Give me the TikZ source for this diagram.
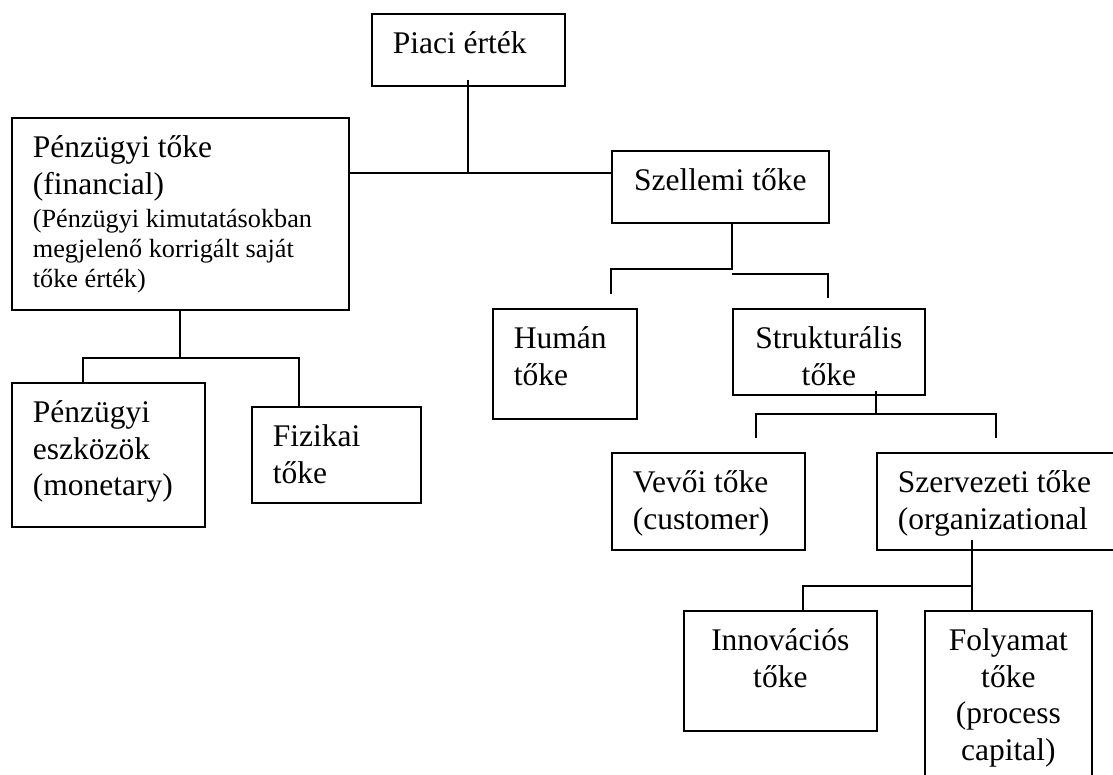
\documentclass[tikz,border=0pt]{standalone}
\usepackage{fontspec}
\setmainfont{Liberation Serif}
\usepackage{tikz}
\usetikzlibrary{positioning}

\newcommand{\bigfnt}{\fontsize{31.5pt}{36.5pt}\selectfont\lineskiplimit=-100pt\lineskip=0pt}
\newcommand{\smallfnt}{\fontsize{26.25pt}{30.2pt}\selectfont\lineskiplimit=-100pt\lineskip=0pt}

\begin{document}
\begin{tikzpicture}[
  x=1pt, y=-1pt,
  orgbox/.style={rectangle, draw=black, line width=1.7pt, anchor=north west,
                 inner xsep=21pt, inner ysep=0pt, text height=40pt,
                 align=flush left, font=\bigfnt},
  cbox/.style={orgbox, inner xsep=10pt, align=flush center},
  link/.style={draw=black, line width=1.7pt}
]
\path[use as bounding box, clip] (0,0) rectangle (1113,774);

% boxes
\node[orgbox, text width=151pt, text depth=32pt] (piaci) at (371,13) {Piaci érték};
\node[orgbox, text width=295pt, text depth=152pt] (penzugyi) at (11,117) {%
  Pénzügyi tőke\par
  (financial)\par
  \vspace{3pt}\smallfnt
  (Pénzügyi kimutatásokban\par
  megjelenő korrigált saját\par
  tőke érték)\par};
\node[orgbox, text width=151pt, text depth=104pt] (eszkozok) at (11,382) {%
  Pénzügyi\\ eszközök\\ (monetary)};
\node[orgbox, text width=127pt, text depth=56pt] (fizikai) at (251,406) {Fizikai\\ tőke};
\node[cbox, text width=197pt, text depth=32pt] (szellemi) at (611,150) {Szellemi tőke};
\node[orgbox, text width=102pt, text depth=70pt] (human) at (492,308) {Humán\\ tőke};
\node[cbox, text width=172pt, text depth=46pt] (strukturalis) at (732,308) {Strukturális\\ tőke};
\node[orgbox, text width=151pt, text depth=57pt] (vevoi) at (611,452) {Vevői tőke\\ (customer)};
\node[orgbox, text width=202pt, text depth=57pt] (szervezeti) at (876,452) {Szervezeti tőke\\ (organizational};
\node[cbox, text width=173pt, text depth=80pt] (innovacios) at (683,610) {Innovációs\\ tőke};
\node[cbox, text width=147pt, text depth=140pt] (folyamat) at (924,610) {%
  Folyamat\\ tőke\\ (process\\ capital)};

% connectors
\coordinate (jpiaci) at (468,173);
\draw[link] ([yshift=7pt]jpiaci |- piaci.south) -- (jpiaci);
\draw[link] (penzugyi.east |- jpiaci) -- (szellemi.west |- jpiaci);

\coordinate (jpenz) at (180,358);
\coordinate (jeszk) at (83,358);
\coordinate (jfiz) at (299,358);
\draw[link] (jpenz |- penzugyi.south) -- (jpenz);
\draw[link] (jeszk |- eszkozok.north) -- (jeszk) -- (jfiz) -- (jfiz |- fizikai.north);

\coordinate (jszel) at (732,269);
\coordinate (hfree) at (611,294);
\draw[link] (jszel |- szellemi.south) -- (jszel) -| (hfree);
\coordinate (jszel2) at (732,274);
\coordinate (sfree) at (828,298);
\draw[link] (jszel2) -| (sfree);

\coordinate (jstr) at (876,414);
\coordinate (vfree) at (756,438);
\coordinate (ofree) at (996,438);
\draw[link] ([yshift=5pt]jstr |- strukturalis.south) -- (jstr);
\draw[link] (vfree) -- (vfree |- jstr) -- (ofree |- jstr) -- (ofree);

\coordinate (jszerv) at (972,586);
\coordinate (jinno) at (803,586);
\draw[link] ([yshift=11pt]jszerv |- szervezeti.south) -- (jszerv |- folyamat.north);
\draw[link] (jszerv) -- (jinno) -- (jinno |- innovacios.north);
\end{tikzpicture}
\end{document}
